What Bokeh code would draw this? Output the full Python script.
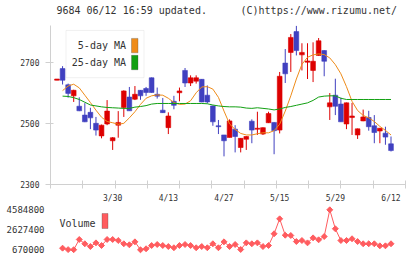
import math
from bokeh.plotting import figure
from bokeh.layouts import column
from bokeh.models import (Range1d, FixedTicker, BoxAnnotation, Label, ColumnDataSource)
from bokeh.embed import file_html
from bokeh.resources import INLINE

nan = float("nan")

# ---- data -------------------------------------------------------------
dates = ["3/13", "3/16", "3/17", "3/18", "3/19", "3/23", "3/24", "3/25", "3/26", "3/27",
         "3/30", "3/31", "4/1", "4/2", "4/3", "4/6", "4/7", "4/8", "4/9", "4/10",
         "4/13", "4/14", "4/15", "4/16", "4/17", "4/20", "4/21", "4/22", "4/23", "4/24",
         "4/27", "4/28", "4/30", "5/1", "5/7", "5/8", "5/11", "5/12", "5/13", "5/14",
         "5/15", "5/18", "5/19", "5/20", "5/21", "5/22", "5/25", "5/26", "5/27", "5/28",
         "5/29", "6/1", "6/2", "6/3", "6/4", "6/5", "6/8", "6/9", "6/10", "6/11",
         "6/12"]

opens = [2641, 2679, 2626, 2590, 2556, 2527, 2536, 2500, 2459, 2498,
         2443, 2494, 2552, 2586, 2579, 2608, 2614, 2649, 2595, 2543,
         2486, 2572, 2600, 2673, 2632, 2638, 2644, 2592, 2557, 2492,
         2462, 2454, 2481, 2421, 2448, 2507, 2481, 2465, 2502, 2503,
         2478, 2697, 2732, 2800, 2724, 2700, 2673, 2722, 2738, 2554,
         2592, 2563, 2498, 2519, 2462, 2508, 2519, 2492, 2475, 2468,
         2433]
highs = [2645, 2687, 2630, 2610, 2585, 2566, 2551, 2521, 2496, 2576,
         2455, 2540, 2608, 2619, 2622, 2609, 2619, 2650, 2617, 2583,
         2536, 2590, 2617, 2681, 2657, 2657, 2645, 2624, 2558, 2511,
         2462, 2513, 2494, 2452, 2458, 2513, 2538, 2487, 2538, 2504,
         2668, 2743, 2792, 2819, 2762, 2762, 2765, 2779, 2739, 2599,
         2646, 2584, 2568, 2567, 2483, 2545, 2541, 2527, 2485, 2489,
         2457]
lows = [2641, 2627, 2584, 2570, 2540, 2504, 2481, 2460, 2451, 2494,
        2413, 2453, 2521, 2541, 2576, 2577, 2590, 2600, 2581, 2534,
        2465, 2546, 2572, 2619, 2622, 2630, 2569, 2565, 2492, 2465,
        2392, 2454, 2405, 2405, 2413, 2435, 2462, 2462, 2501, 2399,
        2467, 2632, 2668, 2722, 2673, 2645, 2635, 2721, 2654, 2511,
        2527, 2505, 2481, 2462, 2449, 2507, 2476, 2435, 2435, 2430,
        2408]
closes = [2645, 2641, 2598, 2608, 2541, 2505, 2518, 2478, 2494, 2540,
          2453, 2503, 2606, 2541, 2595, 2590, 2601, 2601, 2589, 2535,
          2524, 2559, 2606, 2632, 2649, 2649, 2570, 2570, 2505, 2489,
          2443, 2508, 2457, 2451, 2457, 2478, 2484, 2486, 2532, 2476,
          2654, 2662, 2781, 2738, 2732, 2704, 2703, 2770, 2703, 2567,
          2556, 2505, 2567, 2524, 2482, 2521, 2489, 2470, 2484, 2455,
          2411]

ma5 = [nan, 2607, 2622, 2628, 2616, 2592, 2568, 2543, 2520, 2506,
       2502, 2497, 2500, 2518, 2538, 2562, 2582, 2590, 2593, 2592,
       2582, 2568, 2562, 2563, 2574, 2600, 2619, 2620, 2612, 2585,
       2540, 2498, 2480, 2467, 2462, 2462, 2466, 2469, 2469, 2476,
       2497, 2540, 2590, 2645, 2693, 2716, 2724, 2727, 2725, 2714,
       2692, 2662, 2620, 2572, 2542, 2526, 2518, 2506, 2490, 2477,
       2462]
ma25 = [nan, 2589, 2588, 2584, 2578, 2569, 2560, 2557, 2554, 2552,
        2551, 2550, 2549, 2549, 2553, 2555, 2558, 2563, 2565, 2565,
        2565, 2565, 2565, 2565, 2565, 2565, 2565, 2564, 2560, 2557,
        2555, 2554, 2554, 2553, 2550, 2549, 2551, 2549, 2547, 2544,
        2547, 2552, 2555, 2559, 2563, 2567, 2575, 2586, 2589, 2590,
        2590, 2582, 2578, 2578, 2578, 2578, 2578, 2578, 2578, 2578,
        2578]

volume = [nan, 830000, 690000, 680000, 1680000, 1260000, 990000, 1350000, 1090000, 1680000,
          1680000, 1580000, 1260000, 1160000, 1450000, 670000, 770000, 1090000, 1190000, 1090000,
          990000, 870000, 1090000, 1190000, 1090000, 870000, 990000, 870000, 1260000, 870000,
          1450000, 990000, 1190000, 700000, 1350000, 1260000, 1350000, 990000, 1090000, 2240000,
          3700000, 2100000, 2070000, 1480000, 1580000, 1350000, 1840000, 1650000, 1970000, 4584800,
          2730000, 1580000, 1580000, 1750000, 1480000, 1260000, 1260000, 1260000, 1060000, 1060000,
          1260000]

price_ticks = [2300, 2500, 2700]
date_tick_index = [10, 20, 30, 40, 50, 60]

title_text = "9684 06/12 16:59 updated."
credit_text = "(C)https://www.rizumu.net/"

# ---- layout constants ---------------------------------------------------
W = 420
H_HEAD, H_PRICE, H_VOL = 25, 180, 54
LEFT, RIGHT = 50, 15
BOTTOM = 20
STEP = 5.5667          # pixels between neighbouring sessions
FIRST_PX = 56.5        # pixel column of the first session
FRAME_W = W - LEFT - RIGHT
FRAME_H = H_PRICE - BOTTOM

x_lo = (LEFT - FIRST_PX) / STEP
x_hi = x_lo + FRAME_W / STEP
y_lo, y_hi = 2300, 2820

FONT = "DejaVu Sans Mono"
TXT = "#333333"
AXIS = "#d0d0d0"
UP, DOWN = "#dd0000", "#4040c0"
ORANGE, GREEN = "#ef8c1a", "#12a012"
VOLC = "#ff5c5f"


def sx(px):
    return x_lo + (px - LEFT) / STEP


def sy(py):
    # py measured from the top of the whole picture
    return y_lo + (H_HEAD + FRAME_H - py) * (y_hi - y_lo) / FRAME_H


def bare(fig):
    fig.outline_line_color = None
    fig.xgrid.visible = False
    fig.ygrid.visible = False
    fig.background_fill_color = "white"
    fig.border_fill_color = "white"


# ---- header line --------------------------------------------------------
head = figure(width=W, height=H_HEAD, output_backend="svg", toolbar_location=None,
              x_range=Range1d(0, W), y_range=Range1d(H_HEAD, 0),
              min_border=0, x_axis_type=None, y_axis_type=None)
bare(head)
head.add_layout(Label(x=7, y=10, text=title_text, text_font=FONT,
                      text_font_size="10px", text_color=TXT, text_baseline="middle"))
head.add_layout(Label(x=410, y=10, text=credit_text, text_font=FONT,
                      text_font_size="10px", text_color=TXT, text_baseline="middle",
                      text_align="right"))

# ---- price panel --------------------------------------------------------
idx = list(range(len(dates)))
colors = [UP if c >= o else DOWN for o, c in zip(opens, closes)]
src = ColumnDataSource(dict(x=idx, open=opens, high=highs, low=lows, close=closes,
                            color=colors, ma5=ma5, ma25=ma25))

p = figure(width=W, height=H_PRICE, output_backend="svg", toolbar_location=None,
           x_range=Range1d(x_lo, x_hi), y_range=Range1d(y_lo, y_hi),
           min_border_left=LEFT, min_border_right=RIGHT,
           min_border_top=0, min_border_bottom=BOTTOM)
bare(p)

p.segment(x0="x", y0="low", x1="x", y1="high", color="color", line_width=1, source=src)
p.vbar(x="x", width=0.85, top="open", bottom="close", fill_color="color",
       line_color="color", line_width=0.6, source=src)
p.line(x="x", y="ma5", color=ORANGE, line_width=1, source=src)
p.line(x="x", y="ma25", color=GREEN, line_width=1, source=src)

# y axis
ya = p.yaxis[0]
ya.ticker = FixedTicker(ticks=price_ticks)
ya.axis_line_color = AXIS
ya.major_tick_line_color = AXIS
ya.minor_tick_line_color = None
ya.major_tick_out = 5
ya.major_tick_in = 3
ya.major_label_standoff = 6
ya.major_label_text_font = FONT
ya.major_label_text_font_size = "8px"
ya.major_label_text_color = TXT

# x axis: date labels every ten sessions, tick marks evenly spaced along the frame
xa = p.xaxis[0]
xa.ticker = FixedTicker(ticks=date_tick_index,
                        minor_ticks=[x_lo + k * (x_hi - x_lo) / 11 for k in range(12)])
xa.major_label_overrides = {i: dates[i] for i in date_tick_index}
xa.axis_line_color = AXIS
xa.major_tick_line_color = None
xa.major_tick_in = 0
xa.major_tick_out = 0
xa.minor_tick_line_color = AXIS
xa.minor_tick_in = 4
xa.minor_tick_out = 4
xa.major_label_standoff = 5
xa.major_label_text_font = FONT
xa.major_label_text_font_size = "8px"
xa.major_label_text_color = TXT

# moving-average legend
p.add_layout(BoxAnnotation(left=sx(65.5), right=sx(143.5), top=sy(30), bottom=sy(77.5),
                           fill_color="white", fill_alpha=1.0,
                           line_color="#cccccc", line_width=1, level="underlay"))
for name, col, cy in (("5-day MA", ORANGE, 45.5), ("25-day MA", GREEN, 62.5)):
    p.add_layout(Label(x=sx(125.5), y=sy(cy), text=name, text_font=FONT,
                       text_font_size="10px", text_color=TXT,
                       text_align="right", text_baseline="middle"))
    p.add_layout(BoxAnnotation(left=sx(131), right=sx(137.5), top=sy(cy - 7.5),
                               bottom=sy(cy + 7), fill_color=col, fill_alpha=1.0,
                               line_color="#444444", line_width=1))

# ---- volume panel -------------------------------------------------------
VT, VB = 0, 4
VFH = H_VOL - VT - VB
V_TOP_PX = H_HEAD + H_PRICE
vals = [v for v in volume if v == v]
v_min, v_max = min(vals), max(vals)
v_mid = (v_min + v_max) / 2
v_per_px = (v_max - v_min) / 40.0
v_lo = v_min - 5.7 * v_per_px
v_hi = v_lo + VFH * v_per_px


def vy(py):
    local = py - V_TOP_PX
    return v_lo + (VT + VFH - local) * v_per_px


vsrc = ColumnDataSource(dict(x=idx, v=volume))
pv = figure(width=W, height=H_VOL, output_backend="svg", toolbar_location=None,
            x_range=p.x_range, y_range=Range1d(v_lo, v_hi),
            min_border_left=LEFT, min_border_right=RIGHT,
            min_border_top=VT, min_border_bottom=VB)
bare(pv)
pv.xaxis.visible = False

pv.line(x="x", y="v", color=VOLC, line_width=1, source=vsrc)
pv.scatter(x="x", y="v", marker="square", angle=math.pi / 4, size=4.2,
           fill_color=VOLC, line_color=VOLC, line_width=1, source=vsrc)

va = pv.yaxis[0]
vticks = [v_min, v_mid, v_max]
va.ticker = FixedTicker(ticks=vticks)
va.major_label_overrides = {t: str(int(round(t))) for t in vticks}
va.axis_line_color = None
va.major_tick_line_color = None
va.minor_tick_line_color = None
va.major_tick_out = 0
va.major_tick_in = 0
va.major_label_standoff = 6
va.major_label_text_font = FONT
va.major_label_text_font_size = "9px"
va.major_label_text_color = TXT

pv.add_layout(Label(x=sx(59), y=vy(222.5), text="Volume", text_font=FONT,
                    text_font_size="10px", text_color=TXT, text_baseline="middle"))
pv.add_layout(BoxAnnotation(left=sx(101.5), right=sx(107.5), top=vy(213), bottom=vy(228),
                            fill_color=VOLC, fill_alpha=1.0, line_color="#444444",
                            line_width=1))

layout = column(head, p, pv, spacing=0)
open("out.html", "w").write(file_html(layout, INLINE))
